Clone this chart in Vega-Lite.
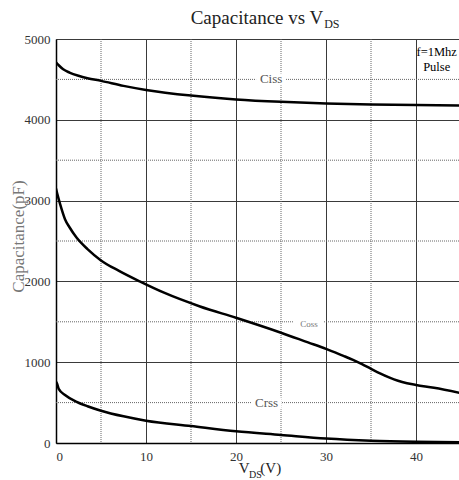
{
  "$schema": "https://vega.github.io/schema/vega-lite/v6.json",
  "width": 405,
  "height": 404,
  "autosize": "none",
  "padding": {"left": 56, "top": 39, "right": 0, "bottom": 37},
  "config": {
    "view": {"stroke": null},
    "font": "Liberation Serif",
    "text": {"font": "Liberation Serif"}
  },
  "datasets": {
    "curves": [
      {"series": "Ciss", "V": 0, "C": 4710},
      {"series": "Ciss", "V": 0.3, "C": 4675},
      {"series": "Ciss", "V": 0.8, "C": 4625},
      {"series": "Ciss", "V": 1.5, "C": 4585},
      {"series": "Ciss", "V": 2.5, "C": 4545},
      {"series": "Ciss", "V": 3.5, "C": 4515},
      {"series": "Ciss", "V": 5, "C": 4482},
      {"series": "Ciss", "V": 7.5, "C": 4420},
      {"series": "Ciss", "V": 10, "C": 4370},
      {"series": "Ciss", "V": 15, "C": 4300},
      {"series": "Ciss", "V": 20, "C": 4252},
      {"series": "Ciss", "V": 25, "C": 4222},
      {"series": "Ciss", "V": 30, "C": 4202},
      {"series": "Ciss", "V": 35, "C": 4190},
      {"series": "Ciss", "V": 40, "C": 4182},
      {"series": "Ciss", "V": 45, "C": 4178},
      {"series": "Coss", "V": 0, "C": 3150},
      {"series": "Coss", "V": 0.15, "C": 3080},
      {"series": "Coss", "V": 0.45, "C": 2960},
      {"series": "Coss", "V": 1, "C": 2770},
      {"series": "Coss", "V": 1.5, "C": 2670},
      {"series": "Coss", "V": 2.3, "C": 2540},
      {"series": "Coss", "V": 3.5, "C": 2400},
      {"series": "Coss", "V": 5, "C": 2260},
      {"series": "Coss", "V": 7, "C": 2130},
      {"series": "Coss", "V": 9.3, "C": 2000},
      {"series": "Coss", "V": 12, "C": 1860},
      {"series": "Coss", "V": 16, "C": 1690},
      {"series": "Coss", "V": 20, "C": 1550},
      {"series": "Coss", "V": 25, "C": 1365},
      {"series": "Coss", "V": 28, "C": 1245},
      {"series": "Coss", "V": 30, "C": 1165},
      {"series": "Coss", "V": 31, "C": 1122},
      {"series": "Coss", "V": 32, "C": 1076},
      {"series": "Coss", "V": 33, "C": 1028},
      {"series": "Coss", "V": 34, "C": 975},
      {"series": "Coss", "V": 35, "C": 918},
      {"series": "Coss", "V": 36, "C": 862},
      {"series": "Coss", "V": 37, "C": 812},
      {"series": "Coss", "V": 38, "C": 770},
      {"series": "Coss", "V": 39, "C": 740},
      {"series": "Coss", "V": 40, "C": 719},
      {"series": "Coss", "V": 42, "C": 683},
      {"series": "Coss", "V": 45, "C": 617},
      {"series": "Crss", "V": 0, "C": 760},
      {"series": "Crss", "V": 0.1, "C": 740},
      {"series": "Crss", "V": 0.3, "C": 670},
      {"series": "Crss", "V": 1, "C": 595},
      {"series": "Crss", "V": 2.3, "C": 510},
      {"series": "Crss", "V": 3.5, "C": 455},
      {"series": "Crss", "V": 5, "C": 400},
      {"series": "Crss", "V": 7.5, "C": 330},
      {"series": "Crss", "V": 10, "C": 276},
      {"series": "Crss", "V": 15, "C": 210},
      {"series": "Crss", "V": 20, "C": 145},
      {"series": "Crss", "V": 25, "C": 100},
      {"series": "Crss", "V": 30, "C": 55},
      {"series": "Crss", "V": 35, "C": 28},
      {"series": "Crss", "V": 40, "C": 15},
      {"series": "Crss", "V": 45, "C": 10}
    ],
    "minorV": [{"V": 5}, {"V": 15}, {"V": 25}, {"V": 35}],
    "minorC": [{"C": 500}, {"C": 1500}, {"C": 2500}, {"C": 3500}, {"C": 4500}],
    "labels": [
      {"label": "Ciss", "V": 23.9, "C": 4500},
      {"label": "Coss", "V": 28.1, "C": 1470},
      {"label": "Crss", "V": 23.4, "C": 490}
    ]
  },
  "layer": [
    {
      "data": {"name": "curves"},
      "mark": {"type": "line", "stroke": "black", "strokeWidth": 2.5, "interpolate": "monotone", "clip": true, "opacity": 0},
      "encoding": {
        "x": {
          "field": "V", "type": "quantitative",
          "scale": {"domain": [0, 45], "nice": false},
          "axis": {
            "values": [0, 10, 20, 30, 40], "title": null, "grid": true, "gridColor": "#3a3a3a", "gridWidth": 1,
            "ticks": false, "domainColor": "black", "domainWidth": 1.5, "format": "d",
            "labelFont": "Liberation Serif", "labelFontSize": 13, "labelColor": "#333", "labelPadding": 7, "labelOverlap": false
          }
        },
        "y": {
          "field": "C", "type": "quantitative",
          "scale": {"domain": [0, 5000], "nice": false},
          "axis": {
            "values": [0, 1000, 2000, 3000, 4000, 5000], "title": "Capacitance(pF)", "grid": true, "gridColor": "#3a3a3a", "gridWidth": 1,
            "ticks": false, "domainColor": "black", "domainWidth": 1.5, "format": "d",
            "labelFont": "Liberation Serif", "labelFontSize": 13, "labelColor": "#333", "labelPadding": 6,
            "titleFont": "Liberation Serif", "titleFontSize": 17, "titleFontWeight": "normal", "titleColor": "#777",
            "titleX": -38, "titleY": 197, "titleAngle": -90, "titleAlign": "center", "titleBaseline": "middle"
          }
        },
        "detail": {"field": "series", "type": "nominal"}
      }
    },
    {
      "data": {"name": "minorV"},
      "mark": {"type": "rule", "stroke": "#666", "strokeDash": [1, 1], "strokeWidth": 1},
      "encoding": {
        "x": {"field": "V", "type": "quantitative"}
      }
    },
    {
      "data": {"name": "minorC"},
      "mark": {"type": "rule", "stroke": "#666", "strokeDash": [1, 1], "strokeWidth": 1},
      "encoding": {
        "y": {"field": "C", "type": "quantitative"}
      }
    },
    {
      "data": {"name": "labels"},
      "mark": {"type": "point", "shape": "M-1,-0.4H1V0.4H-1Z", "filled": true, "fill": "white", "stroke": null, "opacity": 1, "size": 900},
      "encoding": {
        "x": {"field": "V", "type": "quantitative"},
        "y": {"field": "C", "type": "quantitative"}
      }
    },
    {
      "data": {"name": "curves"},
      "mark": {"type": "line", "stroke": "black", "strokeWidth": 2.5, "interpolate": "monotone", "clip": true},
      "encoding": {
        "x": {"field": "V", "type": "quantitative"},
        "y": {"field": "C", "type": "quantitative"},
        "detail": {"field": "series", "type": "nominal"}
      }
    },
    {
      "data": {"name": "labels"},
      "transform": [{"filter": "datum.label !== 'Coss'"}],
      "mark": {"type": "text", "fontSize": 13, "color": "#555", "baseline": "middle", "align": "center"},
      "encoding": {
        "x": {"field": "V", "type": "quantitative"},
        "y": {"field": "C", "type": "quantitative"},
        "text": {"field": "label"}
      }
    },
    {
      "data": {"name": "labels"},
      "transform": [{"filter": "datum.label === 'Coss'"}],
      "mark": {"type": "text", "fontSize": 9, "color": "#777", "baseline": "middle", "align": "center"},
      "encoding": {
        "x": {"field": "V", "type": "quantitative"},
        "y": {"field": "C", "type": "quantitative"},
        "text": {"field": "label"}
      }
    },
    {
      "data": {"values": [{"t": "f=1Mhz"}]},
      "mark": {"type": "text", "fontSize": 12.5, "color": "black", "align": "center", "baseline": "alphabetic"},
      "encoding": {"x": {"datum": 42.3}, "y": {"datum": 4790}, "text": {"field": "t"}}
    },
    {
      "data": {"values": [{"t": "Pulse"}]},
      "mark": {"type": "text", "fontSize": 12.5, "color": "black", "align": "center", "baseline": "alphabetic"},
      "encoding": {"x": {"datum": 42.3}, "y": {"datum": 4604}, "text": {"field": "t"}}
    },
    {
      "data": {"values": [{"t": "Capacitance vs V"}]},
      "mark": {"type": "text", "fontSize": 19, "color": "#222", "align": "right", "baseline": "alphabetic"},
      "encoding": {"x": {"datum": 29.7}, "y": {"datum": 5186}, "text": {"field": "t"}}
    },
    {
      "data": {"values": [{"t": "DS"}]},
      "mark": {"type": "text", "fontSize": 12, "color": "#222", "align": "left", "baseline": "alphabetic"},
      "encoding": {"x": {"datum": 29.8}, "y": {"datum": 5130}, "text": {"field": "t"}}
    },
    {
      "data": {"values": [{"t": "V"}]},
      "mark": {"type": "text", "fontSize": 15, "color": "#222", "align": "left", "baseline": "alphabetic"},
      "encoding": {"x": {"datum": 20.3}, "y": {"datum": -375}, "text": {"field": "t"}}
    },
    {
      "data": {"values": [{"t": "DS"}]},
      "mark": {"type": "text", "fontSize": 10, "color": "#222", "align": "left", "baseline": "alphabetic"},
      "encoding": {"x": {"datum": 21.45}, "y": {"datum": -435}, "text": {"field": "t"}}
    },
    {
      "data": {"values": [{"t": "(V)"}]},
      "mark": {"type": "text", "fontSize": 15, "color": "#222", "align": "left", "baseline": "alphabetic"},
      "encoding": {"x": {"datum": 22.7}, "y": {"datum": -375}, "text": {"field": "t"}}
    }
  ]
}
